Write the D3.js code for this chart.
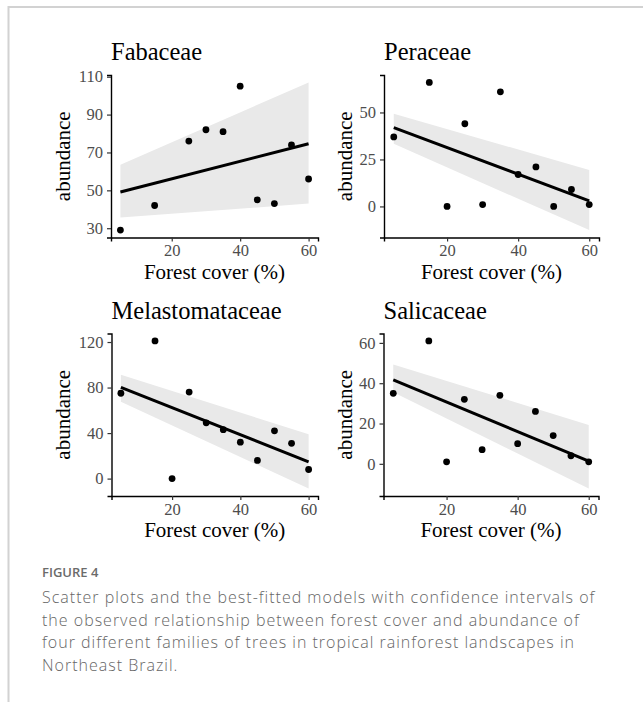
<!DOCTYPE html>
<html>
<head>
<meta charset="utf-8">
<script src="https://cdn.jsdelivr.net/npm/d3@7"></script>
<style>
  body { margin: 0; background: #fff; }
</style>
</head>
<body>
<div id="chart"></div>
<script>
// values
const forestFab = [5, 15, 25, 30, 35, 40, 45, 50, 55, 60];
const abundFab = [29, 42, 76, 82, 81, 105, 45, 43, 74, 56];
const forestCover = [5, 15, 20, 25, 30, 35, 40, 45, 50, 55, 60];
const abundPer = [37, 66, 0, 44, 1, 61, 17, 21, 0, 9, 1];
const abundMel = [75, 121, 0, 76, 49, 43, 32, 16, 42, 31, 8];
const abundSal = [35, 61, 1, 32, 7, 34, 10, 26, 14, 4, 1];

// fitted line and confidence band at the ends of the x range
const fitX = [5, 60];
const fitFab = [49.1, 74.6], lowFab = [35.6, 43], highFab = [63.5, 107];
const fitPer = [41.9, 3.0], lowPer = [33.3, -12.6], highPer = [49.3, 19.4];
const fitMel = [80.2, 14.7], lowMel = [67.5, -8.8], highMel = [91.3, 39];
const fitSal = [41.7, 1.3], lowSal = [35.5, -12.3], highSal = [49.3, 19.3];

const xTicks = [20, 40, 60];
const yTicksFab = [30, 50, 70, 90, 110];
const yTicksPer = [0, 25, 50];
const yTicksMel = [0, 40, 80, 120];
const yTicksSal = [0, 20, 40, 60];

const families = ['Fabaceae', 'Peraceae', 'Melastomataceae', 'Salicaceae'];

const serif = '"Liberation Serif", "Times New Roman", serif';
const W = 643, H = 702;
const svg = d3.select('#chart').append('svg')
    .attr('width', W)
    .attr('height', H);

// frame
svg.append('line').attr('x1', 8.5).attr('x2', 8.5).attr('y1', 6).attr('y2', H)
    .attr('stroke', '#d2d2d2').attr('stroke-width', 2);
svg.append('line').attr('x1', 8).attr('x2', W).attr('y1', 7).attr('y2', 7)
    .attr('stroke', '#d2d2d2').attr('stroke-width', 2);

const panels = [
    { name: families[0], xs: forestFab, ys: abundFab, fit: fitFab, low: lowFab, high: highFab, yt: yTicksFab,
      left: 111, right: 318, top: 75, bottom: 237.5, ylab: 70 },
    { name: families[1], xs: forestCover, ys: abundPer, fit: fitPer, low: lowPer, high: highPer, yt: yTicksPer,
      left: 384, right: 599, top: 75, bottom: 237.5, ylab: 351.5 },
    { name: families[2], xs: forestCover, ys: abundMel, fit: fitMel, low: lowMel, high: highMel, yt: yTicksMel,
      left: 111.5, right: 318, top: 333.5, bottom: 496, ylab: 70 },
    { name: families[3], xs: forestCover, ys: abundSal, fit: fitSal, low: lowSal, high: highSal, yt: yTicksSal,
      left: 383.5, right: 598.5, top: 333.5, bottom: 496, ylab: 351.5 }
];

panels.forEach(p => {
    const g = svg.append('g');

    const xmin = d3.min(p.xs), xmax = d3.max(p.xs);
    const xpad = (xmax - xmin) * 0.05;
    const xScale = d3.scaleLinear()
        .domain([xmin - xpad, xmax + xpad])
        .range([p.left, p.right]);

    const ymin = d3.min([...p.ys, ...p.low]), ymax = d3.max([...p.ys, ...p.high]);
    const ypad = (ymax - ymin) * 0.05;
    const yScale = d3.scaleLinear()
        .domain([ymin - ypad, ymax + ypad])
        .range([p.bottom, p.top]);

    // confidence band
    const band = fitX.map((x, i) => ({ x: x, lo: p.low[i], hi: p.high[i] }));
    g.append('path')
        .datum(band)
        .attr('fill', '#e9e9e9')
        .attr('d', d3.area()
            .x(d => xScale(d.x))
            .y0(d => yScale(d.lo))
            .y1(d => yScale(d.hi)));

    // points
    g.selectAll('.dot')
        .data(p.xs.map((x, i) => ({ x: x, y: p.ys[i] })))
        .enter()
        .append('circle')
        .attr('class', 'dot')
        .attr('cx', d => xScale(d.x))
        .attr('cy', d => yScale(d.y))
        .attr('r', 3.4)
        .attr('fill', '#000');

    // fitted line
    g.append('path')
        .datum(fitX.map((x, i) => ({ x: x, y: p.fit[i] })))
        .attr('fill', 'none')
        .attr('stroke', '#000')
        .attr('stroke-width', 3)
        .attr('d', d3.line().x(d => xScale(d.x)).y(d => yScale(d.y)));

    // axes
    const xAxis = g.append('g')
        .attr('transform', `translate(0,${p.bottom})`)
        .call(d3.axisBottom(xScale).tickValues(xTicks).tickSizeOuter(0).tickSize(4).tickPadding(3));
    const yAxis = g.append('g')
        .attr('transform', `translate(${p.left},0)`)
        .call(d3.axisLeft(yScale).tickValues(p.yt).tickSizeOuter(0).tickSize(4).tickPadding(4));

    [xAxis, yAxis].forEach(a => {
        a.attr('font-family', serif).attr('font-size', 16.5);
        a.select('.domain').attr('stroke', '#000').attr('stroke-width', 1.4);
        a.selectAll('.tick line').attr('stroke', '#333').attr('stroke-width', 1.2);
        a.selectAll('.tick text')
            .attr('fill', '#4d4d4d')
            .attr('font-family', serif);
    });

    // title
    g.append('text')
        .attr('x', p.left)
        .attr('y', p.top - 15)
        .text(p.name)
        .attr('font-family', serif)
        .attr('font-size', 24.5)
        .attr('fill', '#000');

    // axis titles
    g.append('text')
        .attr('x', (p.left + p.right) / 2)
        .attr('y', p.bottom + 41)
        .attr('text-anchor', 'middle')
        .text('Forest cover (%)')
        .attr('font-family', serif)
        .attr('font-size', 21);

    g.append('text')
        .attr('transform', `translate(${p.ylab},${(p.top + p.bottom) / 2}) rotate(-90)`)
        .attr('text-anchor', 'middle')
        .text('abundance')
        .attr('font-family', serif)
        .attr('font-size', 21);
});

// caption
svg.append('text')
    .attr('x', 42)
    .attr('y', 577)
    .text('FIGURE 4')
    .attr('font-family', '"Open Sans", sans-serif')
    .attr('font-weight', 600)
    .attr('font-size', 13)
    .attr('fill', '#6b6b6b');

const captionLines = [
    'Scatter plots and the best-fitted models with confidence intervals of',
    'the observed relationship between forest cover and abundance of',
    'four different families of trees in tropical rainforest landscapes in',
    'Northeast Brazil.'
];

svg.selectAll('.cap')
    .data(captionLines)
    .enter()
    .append('text')
    .attr('class', 'cap')
    .attr('x', 42)
    .attr('y', (d, i) => 603 + i * 22.6)
    .text(d => d)
    .attr('font-family', '"Open Sans", sans-serif')
    .attr('font-weight', 300)
    .attr('font-size', 16)
    .attr('letter-spacing', 1.0)
    .attr('fill', '#666');
</script>
</body>
</html>
